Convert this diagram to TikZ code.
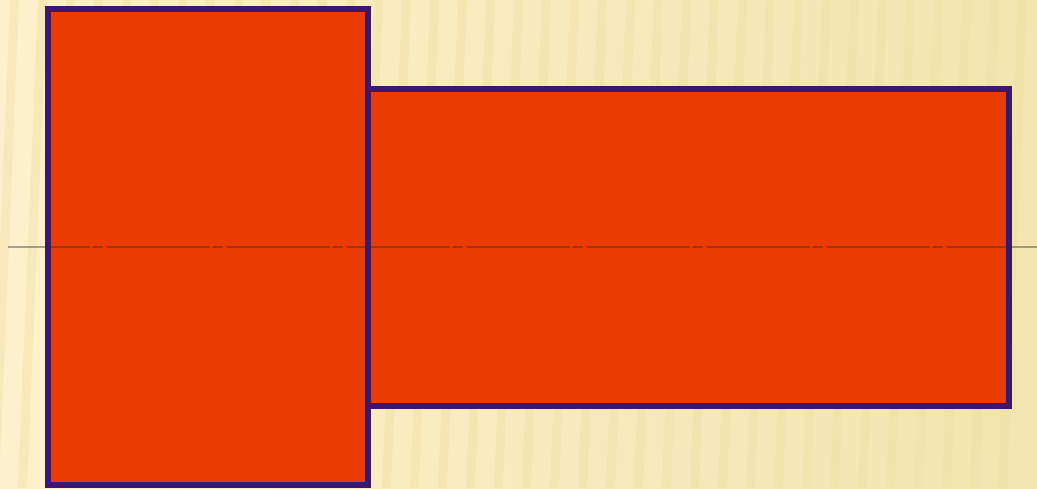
\documentclass[tikz,border=0pt]{standalone}
\usepackage{tikz}

\definecolor{cream}{RGB}{252,241,204}
\definecolor{creamdark}{RGB}{240,222,162}
\definecolor{brick}{RGB}{234,60,0}
\definecolor{plum}{RGB}{58,24,110}
\definecolor{axisgray}{RGB}{40,40,40}

\begin{document}
\begin{tikzpicture}[x=1pt, y=-1pt,
    part/.style = {draw=plum, fill=brick, line width=6pt, rectangle, inner sep=0pt},
    axisline/.style = {draw=axisgray, opacity=0.4, line width=1.8pt,
        dash pattern=on 82pt off 2pt on 11pt off 4pt on 21pt off 0pt}]
    \useasboundingbox (0,0) rectangle (1037,488);
    % background
    \shade[left color=cream, right color=creamdark!70!cream] (0,0) rectangle (1037,488);
    \foreach \sx in {10,38,...,1037}
        \fill[creamdark, opacity=0.4] (\sx,0) -- (\sx+9,0) -- (\sx-11,488) -- (\sx-20,488) -- cycle;
    % shank and head
    \node[part, minimum width=640.5pt, minimum height=317pt] (shank) at (688.25,247.5) {};
    \node[part, minimum width=320pt, minimum height=476pt] (head) at (208,247) {};
    % axis
    \coordinate (axisL) at (8,247);
    \coordinate (axisR) at (1037,247);
    \draw[axisline] (axisL) -- (axisR);
\end{tikzpicture}
\end{document}
